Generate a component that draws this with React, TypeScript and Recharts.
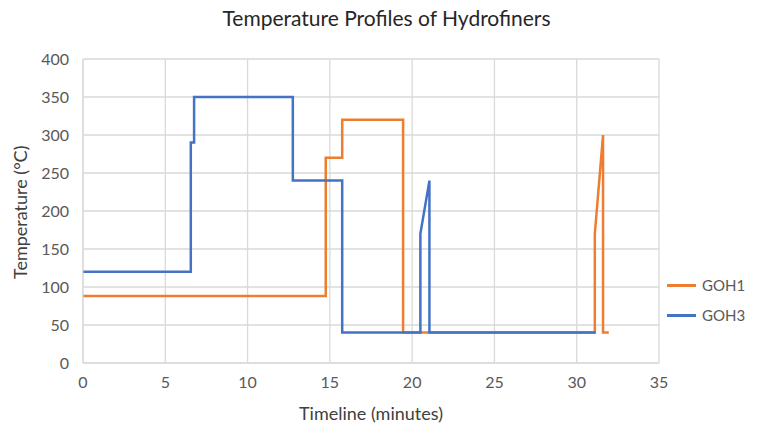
import React from 'react';
import { LineChart, Line, XAxis, YAxis, CartesianGrid } from 'recharts';

const goh1Time = [0, 14.75, 14.75, 15.75, 15.75, 19.45, 19.45, 31.1, 31.1, 31.6, 31.6, 31.95]
const goh1Temp = [88, 88, 270, 270, 320, 320, 40, 40, 170, 300, 40, 40]

const goh3Time = [0, 6.55, 6.55, 6.75, 6.75, 12.75, 12.75, 15.75, 15.75, 20.5, 20.5, 21.05, 21.05, 31.15]
const goh3Temp = [120, 120, 290, 290, 350, 350, 240, 240, 40, 40, 170, 240, 40, 40]

const xTicks = [0, 5, 10, 15, 20, 25, 30, 35]
const yTicks = [0, 50, 100, 150, 200, 250, 300, 350, 400]

const orange = "#ED7D31"
const blue = "#4472C4"
const gridColor = "#d9d9d9"
const textColor = "#595959"
const font = "Lato, 'Open Sans', sans-serif"

const toPoints = (times: number[], temps: number[]) =>
    times.map((t, i) => ({ time: t, temp: temps[i] }))

const goh1 = toPoints(goh1Time, goh1Temp)
const goh3 = toPoints(goh3Time, goh3Temp)

const LegendBox = () => (
    <div style={{ position: 'absolute', left: 667, top: 270, fontFamily: font, fontSize: 15, color: textColor }}>
        {[{ name: 'GOH1', color: orange }, { name: 'GOH3', color: blue }].map((item) => (
            <div key={item.name} style={{ display: 'flex', alignItems: 'center', height: 30 }}>
                <div style={{ width: 29, height: 3, background: item.color, marginRight: 6 }} />
                <span>{item.name}</span>
            </div>
        ))}
    </div>
)

export default function App() {
    return (
        <div style={{ position: 'absolute', left: 0, top: 0, width: 773, height: 426, background: '#fff' }}>
            <div style={{
                position: 'absolute', left: 0, width: 773, top: 5, textAlign: 'center',
                fontFamily: font, fontSize: 21, color: '#262626'
            }}>
                Temperature Profiles of Hydrofiners
            </div>
            <LineChart width={773} height={426} margin={{ top: 59, right: 114, left: 23, bottom: 23 }}>
                <CartesianGrid stroke={gridColor} strokeWidth={1.3} />
                <XAxis
                    type="number"
                    dataKey="time"
                    domain={[0, 35]}
                    ticks={xTicks}
                    allowDuplicatedCategory={false}
                    tickLine={false}
                    axisLine={{ stroke: gridColor }}
                    tick={{ fill: textColor, fontSize: 16, fontFamily: font }}
                    tickMargin={8}
                    height={40}
                    label={{ value: 'Timeline (minutes)', position: 'insideBottom', offset: -17, fill: '#404040', fontSize: 18, fontFamily: font }}
                />
                <YAxis
                    type="number"
                    dataKey="temp"
                    domain={[0, 400]}
                    ticks={yTicks}
                    tickLine={false}
                    axisLine={{ stroke: gridColor }}
                    tick={{ fill: textColor, fontSize: 16, fontFamily: font }}
                    tickMargin={8}
                    width={60}
                    label={{ value: 'Temperature (°C)', angle: -90, position: 'insideLeft', offset: -2, dy: 68, fill: '#404040', fontSize: 18, fontFamily: font }}
                />
                <Line data={goh1} dataKey="temp" name="GOH1" type="linear" stroke={orange} strokeWidth={2.5} dot={false} isAnimationActive={false} />
                <Line data={goh3} dataKey="temp" name="GOH3" type="linear" stroke={blue} strokeWidth={2.5} dot={false} isAnimationActive={false} />
            </LineChart>
            <LegendBox />
        </div>
    );
}
